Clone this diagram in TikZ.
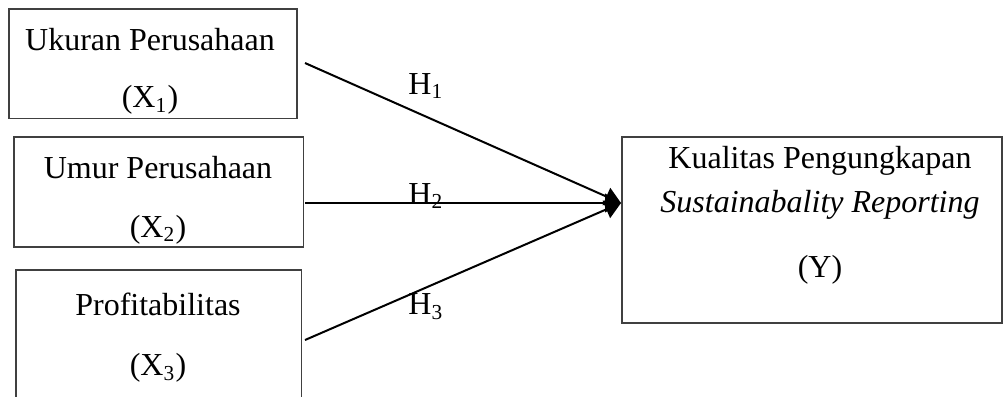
\documentclass[tikz,border=0pt]{standalone}
\usepackage{fontspec}
\setmainfont{Liberation Serif}
\usetikzlibrary{arrows.meta}
\tikzset{
    kotak/.style={draw=black!75, line width=0.4pt, inner sep=0pt},
    teks/.style={align=center, inner sep=0pt},
    panah/.style={line width=0.75pt, -{Triangle[length=6pt,width=7pt]}},
}
\begin{document}
\begin{tikzpicture}[x=0.375pt, y=-0.375pt, font=\fontsize{12}{14}\selectfont]
    \useasboundingbox (0,0) rectangle (1004,396);
    % variabel bebas
    \node[kotak, minimum width=108pt, minimum height=40.9pt] (b1) at (153,63.5) {};
    \node[kotak, minimum width=108.4pt, minimum height=41.25pt] (b2) at (158.5,192) {};
    \node[kotak, minimum width=106.9pt, minimum height=48.75pt] (b3) at (158.5,335) {};
    \node[teks] (t1) at (150,71) {Ukuran Perusahaan\\[7.4pt](X\textsubscript{1})};
    \node[teks] (t2) at (158,200) {Umur Perusahaan\\[8pt](X\textsubscript{2})};
    \node[teks] (t3) at (158,337.5) {Profitabilitas\\[8.5pt](X\textsubscript{3})};
    % variabel terikat
    \node[kotak, minimum width=142.5pt, minimum height=69.75pt] (bY) at (812,230) {};
    \node[teks] (tY) at (820,215) {Kualitas Pengungkapan\\[2.5pt]\textit{Sustainabality Reporting}\\[10.4pt](Y)};
    % hipotesis
    \coordinate (s1) at (305,63);
    \coordinate (s2) at (305,203);
    \coordinate (s3) at (305,340);
    \coordinate (ujung) at (621,203);
    \draw[panah] (s1) -- (ujung);
    \draw[panah] (s2) -- (ujung);
    \draw[panah] (s3) -- (ujung);
    \node (h1) at (426,86) {H\textsubscript{1}};
    \node (h2) at (426,196) {H\textsubscript{2}};
    \node (h3) at (426,307) {H\textsubscript{3}};
\end{tikzpicture}
\end{document}
